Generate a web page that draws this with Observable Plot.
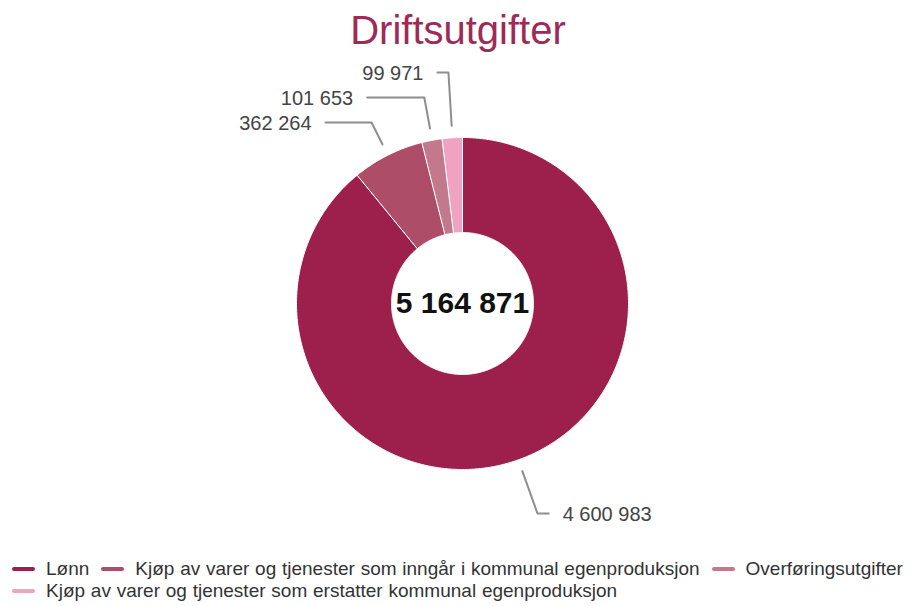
<!DOCTYPE html>
<html><head><meta charset="utf-8">
<script src="https://cdn.jsdelivr.net/npm/d3@7"></script>
<script src="https://cdn.jsdelivr.net/npm/@observablehq/plot@0.6"></script>
<style>
body{margin:0;background:#fff;font-family:"Liberation Sans",Arial,sans-serif;width:916px;height:606px;overflow:hidden}
#title{height:49px;padding-top:7px;text-align:center;font-size:40px;line-height:46px;color:#9e2a57}
#chart svg{display:block}
#legend{display:flex;flex-wrap:wrap;column-gap:12px;padding-left:12px;width:904px;font-size:19px;word-spacing:0.5px;color:#333;line-height:22px;margin-top:8px}
.item{display:flex;align-items:center;white-space:nowrap}
.sym{width:23px;height:4px;border-radius:2px;margin-right:11px}
</style></head><body>
<div id="title">Driftsutgifter</div>
<div id="chart"></div>
<div id="legend"></div>
<script>
const categories = [
  "Lønn",
  "Kjøp av varer og tjenester som inngår i kommunal egenproduksjon",
  "Overføringsutgifter",
  "Kjøp av varer og tjenester som erstatter kommunal egenproduksjon"
];
const values = [4600983, 362264, 101653, 99971];
const colors = ["#9c1f4c", "#ad4d67", "#c3798c", "#f0a2c1"];

const total = d3.sum(values);
const fmt = v => d3.format(",")(v).replace(/,/g, " ");

// layout (pixel units relative to pie centre)
const W = 916, H = 494, CX = 462, CY = 247;
const R = 166, R0 = 71, TOUCH = R + 12, NAT = 223, CIRC = 227;
const SPACING = 25, YMIN = -231, YMAX = 231;

const pie = d3.pie().sort(null).value(d => d.value);
const arcs = pie(categories.map((key, i) => ({key, value: values[i]})));

// slice polygons
const polys = [];
arcs.forEach(a => {
  const n = Math.max(2, Math.ceil((a.endAngle - a.startAngle) / (Math.PI / 360)));
  for (let k = 0; k <= n; k++) {
    const t = a.startAngle + (a.endAngle - a.startAngle) * k / n;
    polys.push({key: a.data.key, x: R * Math.sin(t), y: -R * Math.cos(t)});
  }
  for (let k = n; k >= 0; k--) {
    const t = a.startAngle + (a.endAngle - a.startAngle) * k / n;
    polys.push({key: a.data.key, x: R0 * Math.sin(t), y: -R0 * Math.cos(t)});
  }
});

// labels
const labels = arcs.map(a => {
  const m = (a.startAngle + a.endAngle) / 2;
  return {key: a.data.key, value: a.data.value, m, s: Math.sin(m), c: Math.cos(m),
          side: Math.sin(m) < 0 ? "left" : "right", ny: -NAT * Math.cos(m)};
});

function distribute(items) {
  items.sort((a, b) => a.ny - b.ny);
  let groups = items.map(d => ({items: [d], center: d.ny}));
  const place = g => {
    const n = g.items.length;
    let st = g.center - (n - 1) / 2 * SPACING;
    g.start = Math.max(YMIN, Math.min(YMAX - (n - 1) * SPACING, st));
  };
  let merged = true;
  while (merged) {
    merged = false;
    groups.forEach(place);
    for (let i = 0; i < groups.length - 1; i++) {
      const a = groups[i], b = groups[i + 1];
      if (a.start + a.items.length * SPACING > b.start) {
        const its = [...a.items, ...b.items];
        groups.splice(i, 2, {items: its, center: d3.mean(its, d => d.ny)});
        merged = true;
        break;
      }
    }
  }
  groups.forEach(place);
  groups.forEach(g => g.items.forEach((d, k) => d.ly = g.start + k * SPACING));
}
distribute(labels.filter(d => d.side === "left"));
distribute(labels.filter(d => d.side === "right"));

const connectors = [];
labels.forEach(d => {
  const p0 = {x: TOUCH * d.s, y: -TOUCH * d.c};
  let t = Math.abs(d.c) > 0.05 ? d.ly / -d.c : TOUCH;
  t = Math.max(TOUCH, t);
  const ex = t * d.s;
  const cdx = Math.sqrt(Math.max(0, CIRC * CIRC - d.ly * d.ly));
  const lx = d.side === "left" ? Math.min(-cdx, ex - 11) : Math.max(cdx, ex + 11);
  d.tx = d.side === "left" ? lx - 14 : lx + 14;
  connectors.push({key: d.key, x: p0.x, y: p0.y}, {key: d.key, x: ex, y: d.ly}, {key: d.key, x: lx, y: d.ly});
});

const chart = Plot.plot({
  width: W, height: H,
  margin: 0,
  x: {domain: [-CX, W - CX], range: [0, W], axis: null},
  y: {domain: [-CY, H - CY], range: [0, H], axis: null},
  color: {domain: categories, range: colors},
  style: {fontFamily: "'Liberation Sans', Arial, sans-serif", background: "#fff"},
  marks: [
    Plot.line(polys, {x: "x", y: "y", z: "key", fill: "key", stroke: "#ffffff", strokeWidth: 1, curve: "linear-closed"}),
    Plot.line(connectors, {x: "x", y: "y", z: "key", stroke: "#8e8e8e", strokeWidth: 2, strokeLinejoin: "round", strokeLinecap: "round"}),
    Plot.text(labels.filter(d => d.side === "left"), {x: "tx", y: "ly", text: d => fmt(d.value), textAnchor: "end", fontSize: 20, fill: "#444", dy: 1}),
    Plot.text(labels.filter(d => d.side === "right"), {x: "tx", y: "ly", text: d => fmt(d.value), textAnchor: "start", fontSize: 20, fill: "#444", dy: 1}),
    Plot.text([total], {x: () => 0, y: () => 0, text: d => fmt(d), fontSize: 30, fontWeight: "bold", fill: "#111"})
  ]
});
document.getElementById("chart").appendChild(chart);

const legend = document.getElementById("legend");
categories.forEach((c, i) => {
  const it = document.createElement("div");
  it.className = "item";
  const s = document.createElement("span");
  s.className = "sym";
  s.style.background = colors[i];
  const t = document.createElement("span");
  t.textContent = c;
  it.appendChild(s); it.appendChild(t);
  legend.appendChild(it);
});
</script>
</body></html>
